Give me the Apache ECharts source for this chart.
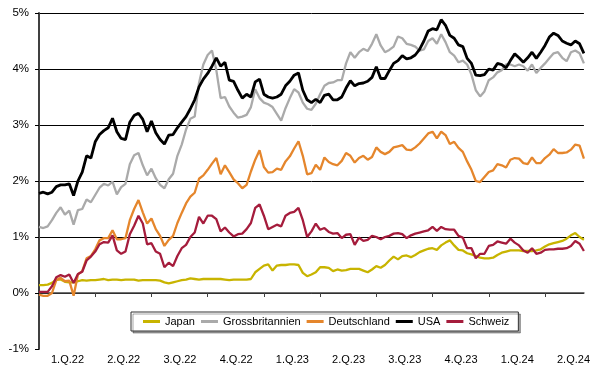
<!DOCTYPE html>
<html>
<head>
<meta charset="utf-8">
<script src="https://cdn.jsdelivr.net/npm/echarts@6/dist/echarts.min.js"></script>
<style>
  html, body { margin: 0; padding: 0; background: #fff; }
  #chart { width: 593px; height: 365px; }
</style>
</head>
<body>
<div id="chart"></div>
<script>
// weekly values in %, from week 0 (start of 1.Q.22) to mid 2.Q.24
var quarters = ["1.Q.22", "2.Q.22", "3.Q.22", "4.Q.22", "1.Q.23", "2.Q.23", "3.Q.23", "4.Q.23", "1.Q.24", "2.Q.24"];

var japan = [
  0.14, 0.14, 0.15, 0.18, 0.24, 0.24, 0.20, 0.19, 0.19, 0.21, 0.23, 0.22, 0.23, 0.23, 0.24, 0.25,
  0.23, 0.24, 0.24, 0.23, 0.24, 0.24, 0.24, 0.22, 0.23, 0.23, 0.23, 0.23, 0.22, 0.19, 0.17, 0.19,
  0.21, 0.23, 0.24, 0.26, 0.25, 0.24, 0.25, 0.25, 0.25, 0.25, 0.25, 0.24, 0.23, 0.24, 0.24, 0.24,
  0.24, 0.25, 0.37, 0.43, 0.49, 0.51, 0.40, 0.49, 0.50, 0.50, 0.51, 0.51, 0.50, 0.36, 0.30, 0.33,
  0.37, 0.46, 0.46, 0.45, 0.39, 0.42, 0.40, 0.41, 0.43, 0.43, 0.43, 0.40, 0.37, 0.42, 0.48, 0.45,
  0.50, 0.58, 0.65, 0.60, 0.66, 0.67, 0.64, 0.68, 0.73, 0.76, 0.79, 0.80, 0.77, 0.85, 0.90, 0.94,
  0.85, 0.77, 0.76, 0.71, 0.69, 0.66, 0.63, 0.62, 0.62, 0.63, 0.68, 0.72, 0.74, 0.76, 0.76, 0.76,
  0.75, 0.75, 0.75, 0.76, 0.78, 0.83, 0.87, 0.89, 0.91, 0.93, 0.97, 1.03, 1.07, 1.00, 0.95
];

var grossbritannien = [
  1.18, 1.16, 1.19, 1.30, 1.43, 1.53, 1.40, 1.47, 1.22, 1.48, 1.50, 1.67, 1.62, 1.75, 1.88, 1.95,
  1.92, 1.99, 1.76, 1.89, 1.95, 2.30, 2.46, 2.50, 2.28, 2.10, 2.22, 2.05, 1.93, 1.87, 2.03, 2.13,
  2.45, 2.65, 2.92, 3.11, 3.15, 3.75, 4.08, 4.25, 4.33, 3.98, 3.48, 3.50, 3.33, 3.22, 3.13, 3.15,
  3.18, 3.32, 3.64, 3.48, 3.40, 3.37, 3.32, 3.20, 3.08, 3.30, 3.48, 3.64, 3.58, 3.40, 3.29, 3.27,
  3.38, 3.55, 3.70, 3.75, 3.76, 3.80, 3.80, 4.10, 4.30, 4.20, 4.30, 4.36, 4.32, 4.45, 4.62, 4.42,
  4.30, 4.34, 4.40, 4.58, 4.55, 4.45, 4.43, 4.40, 4.33, 4.35, 4.50, 4.55, 4.45, 4.62, 4.48, 4.30,
  4.24, 4.12, 4.15, 4.08, 3.90, 3.62, 3.51, 3.60, 3.80, 3.85, 3.94, 3.98, 4.08, 4.08, 4.05, 4.08,
  4.05, 3.97, 4.08, 3.93, 4.02, 4.10, 4.19, 4.28, 4.30, 4.20, 4.14, 4.30, 4.33, 4.28, 4.10
];

var deutschland = [
  -0.03, -0.05, -0.05, 0.00, 0.23, 0.27, 0.21, 0.22, -0.05, 0.33, 0.39, 0.62, 0.66, 0.78, 0.94, 0.98,
  0.98, 1.12, 0.96, 0.96, 0.98, 1.30, 1.50, 1.66, 1.44, 1.24, 1.33, 1.14, 1.02, 0.84, 0.95, 1.02,
  1.25, 1.43, 1.60, 1.72, 1.79, 2.04, 2.10, 2.20, 2.31, 2.41, 2.12, 2.28, 2.16, 2.03, 1.96, 1.87,
  1.93, 2.17, 2.38, 2.55, 2.25, 2.15, 2.16, 2.22, 2.20, 2.35, 2.44, 2.58, 2.71, 2.45, 2.12, 2.14,
  2.29, 2.20, 2.42, 2.34, 2.30, 2.28, 2.36, 2.50, 2.45, 2.33, 2.41, 2.45, 2.38, 2.43, 2.60, 2.52,
  2.48, 2.52, 2.60, 2.62, 2.64, 2.56, 2.55, 2.60, 2.67, 2.76, 2.85, 2.88, 2.76, 2.88, 2.82, 2.66,
  2.70, 2.59, 2.52, 2.35, 2.20, 2.00, 1.98, 2.07, 2.16, 2.19, 2.30, 2.28, 2.24, 2.38, 2.41, 2.40,
  2.32, 2.30, 2.42, 2.32, 2.32, 2.41, 2.47, 2.57, 2.50, 2.50, 2.51, 2.56, 2.65, 2.63, 2.40
];

var usa = [
  1.78, 1.80, 1.77, 1.80, 1.90, 1.93, 1.93, 1.95, 1.74, 2.00, 2.16, 2.45, 2.41, 2.70, 2.83, 2.90,
  2.95, 3.12, 2.88, 2.76, 2.74, 3.05, 3.17, 3.21, 3.10, 2.88, 3.07, 2.86, 2.74, 2.66, 2.82, 2.83,
  2.95, 3.05, 3.15, 3.29, 3.45, 3.68, 3.82, 3.92, 4.05, 4.20, 4.05, 4.12, 3.80, 3.78, 3.62, 3.48,
  3.55, 3.50, 3.77, 3.82, 3.55, 3.50, 3.48, 3.50, 3.55, 3.70, 3.78, 3.89, 3.93, 3.62, 3.45, 3.40,
  3.46, 3.40, 3.53, 3.55, 3.45, 3.45, 3.50, 3.66, 3.79, 3.70, 3.74, 3.75, 3.78, 3.85, 4.04, 3.83,
  3.83, 3.97, 4.10, 4.15, 4.24, 4.18, 4.20, 4.25, 4.35, 4.50, 4.68, 4.72, 4.70, 4.88, 4.78, 4.60,
  4.55, 4.43, 4.40, 4.19, 4.10, 3.89, 3.88, 3.90, 4.00, 3.98, 4.10, 4.08, 4.02, 4.15, 4.27, 4.20,
  4.12, 4.20, 4.30, 4.19, 4.30, 4.42, 4.57, 4.64, 4.60, 4.50, 4.46, 4.43, 4.50, 4.45, 4.28
];

var schweiz = [
  0.02, 0.02, 0.02, 0.12, 0.28, 0.32, 0.29, 0.33, 0.18, 0.34, 0.38, 0.58, 0.65, 0.74, 0.87, 0.91,
  0.90, 1.03, 0.76, 0.70, 0.74, 1.05, 1.20, 1.38, 1.24, 0.87, 0.89, 0.74, 0.70, 0.46, 0.54, 0.48,
  0.66, 0.80, 0.86, 1.00, 1.08, 1.36, 1.24, 1.38, 1.38, 1.32, 1.10, 1.17, 1.08, 1.01, 1.05, 1.06,
  1.14, 1.25, 1.52, 1.58, 1.38, 1.14, 1.18, 1.22, 1.19, 1.38, 1.43, 1.45, 1.52, 1.30, 1.00, 1.10,
  1.24, 1.13, 1.16, 1.09, 1.06, 1.07, 0.98, 1.04, 1.05, 0.86, 0.99, 0.93, 0.95, 1.02, 1.00, 0.96,
  1.00, 1.02, 1.06, 1.07, 1.05, 0.98, 1.03, 1.06, 1.08, 1.10, 1.12, 1.18, 1.11, 1.18, 1.14, 1.13,
  1.13, 1.02, 0.99, 0.80, 0.80, 0.62, 0.70, 0.70, 0.84, 0.86, 0.92, 0.90, 0.88, 0.97, 0.90, 0.85,
  0.76, 0.72, 0.80, 0.70, 0.72, 0.77, 0.78, 0.78, 0.79, 0.79, 0.80, 0.84, 0.93, 0.88, 0.75
];

var font = "'Liberation Sans', Arial, sans-serif";

function pairs(arr) {
  return arr.map(function (v, i) { return [i, v]; });
}

function line(name, data, color, width) {
  return {
    name: name,
    type: "line",
    data: pairs(data),
    symbol: "none",
    lineStyle: { color: color, width: width },
    itemStyle: { color: color }
  };
}

var chart = echarts.init(document.getElementById("chart"));
chart.setOption({
  animation: false,
  backgroundColor: "#fff",
  textStyle: { fontFamily: font },
  grid: { left: 39, right: 0, top: 13, bottom: 16 },
  legend: {
    left: 131,
    top: 312,
    padding: [4, 9, 4, 12],
    itemGap: 6,
    itemWidth: 17,
    itemHeight: 3,
    icon: "rect",
    borderColor: "#333",
    borderWidth: 1,
    backgroundColor: "#fff",
    shadowColor: "rgba(0,0,0,0.35)",
    shadowOffsetX: 2,
    shadowOffsetY: 2,
    textStyle: { fontFamily: font, fontSize: 11, color: "#000" },
    data: ["Japan", "Grossbritannien", "Deutschland", "USA", "Schweiz"]
  },
  xAxis: {
    type: "value",
    min: 0,
    max: 126,
    interval: 13,
    splitLine: { show: false },
    axisLine: { lineStyle: { color: "#404040", width: 1.5 } },
    axisTick: { show: true, length: 4, lineStyle: { color: "#404040" } },
    axisLabel: {
      fontFamily: font,
      fontSize: 11,
      color: "#000",
      margin: 5,
      padding: [0, 0, 0, 57],
      showMaxLabel: false,
      formatter: function (v) {
        return v % 13 === 0 ? quarters[v / 13] || "" : "";
      }
    }
  },
  yAxis: {
    type: "value",
    min: -1,
    max: 5,
    interval: 1,
    axisLine: { show: true, lineStyle: { color: "#404040", width: 2 } },
    axisTick: { show: true, length: 4, lineStyle: { color: "#000" } },
    splitLine: { showMinLine: false, lineStyle: { color: "#000", width: 1 } },
    axisLabel: {
      fontFamily: font,
      fontSize: 11.5,
      color: "#000",
      margin: 10,
      formatter: "{value}%"
    }
  },
  series: [
    line("Japan", japan, "#C8B400", 2.3),
    line("Grossbritannien", grossbritannien, "#AAAAAA", 2.3),
    line("Deutschland", deutschland, "#E5862C", 2.3),
    line("USA", usa, "#000000", 2.8),
    line("Schweiz", schweiz, "#A51C3C", 2.3)
  ]
});
</script>
</body>
</html>
